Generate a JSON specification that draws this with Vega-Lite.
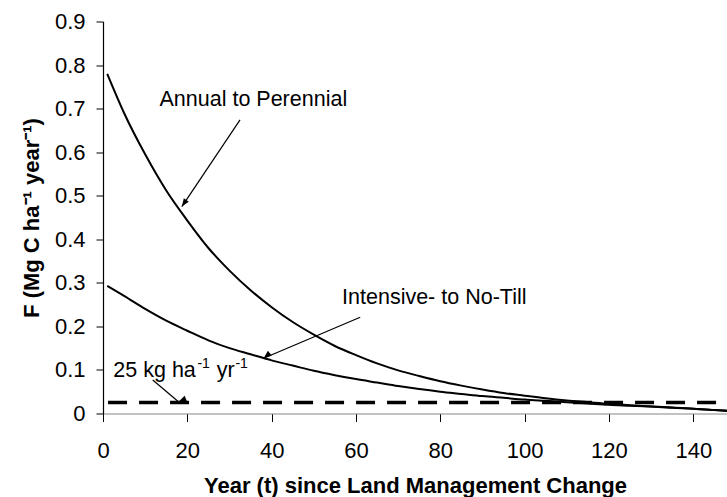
{
  "$schema": "https://vega.github.io/schema/vega-lite/v6.json",
  "width": 624,
  "height": 392,
  "autosize": {"type": "none"},
  "padding": {"left": 103, "top": 21.5, "right": 0, "bottom": 83.5},
  "background": "white",
  "config": {
    "view": {"stroke": null},
    "font": "Liberation Sans",
    "axis": {
      "grid": false,
      "labelFont": "Liberation Sans",
      "titleFont": "Liberation Sans",
      "labelFontSize": 22,
      "titleFontSize": 22,
      "titleFontWeight": "bold",
      "labelColor": "#000",
      "titleColor": "#000",
      "tickColor": "#000",
      "domainColor": "#000",
      "tickWidth": 1,
      "domainWidth": 1.2
    }
  },
  "datasets": {
    "curves": [
      {"t": 1, "F": 0.78, "series": "Annual to Perennial"},
      {"t": 5, "F": 0.69, "series": "Annual to Perennial"},
      {"t": 10, "F": 0.595, "series": "Annual to Perennial"},
      {"t": 15, "F": 0.512, "series": "Annual to Perennial"},
      {"t": 20, "F": 0.443, "series": "Annual to Perennial"},
      {"t": 25, "F": 0.38, "series": "Annual to Perennial"},
      {"t": 30, "F": 0.328, "series": "Annual to Perennial"},
      {"t": 35, "F": 0.283, "series": "Annual to Perennial"},
      {"t": 40, "F": 0.244, "series": "Annual to Perennial"},
      {"t": 45, "F": 0.21, "series": "Annual to Perennial"},
      {"t": 50, "F": 0.181, "series": "Annual to Perennial"},
      {"t": 55, "F": 0.155, "series": "Annual to Perennial"},
      {"t": 60, "F": 0.134, "series": "Annual to Perennial"},
      {"t": 65, "F": 0.115, "series": "Annual to Perennial"},
      {"t": 70, "F": 0.099, "series": "Annual to Perennial"},
      {"t": 75, "F": 0.086, "series": "Annual to Perennial"},
      {"t": 80, "F": 0.074, "series": "Annual to Perennial"},
      {"t": 85, "F": 0.064, "series": "Annual to Perennial"},
      {"t": 90, "F": 0.055, "series": "Annual to Perennial"},
      {"t": 95, "F": 0.047, "series": "Annual to Perennial"},
      {"t": 100, "F": 0.041, "series": "Annual to Perennial"},
      {"t": 105, "F": 0.035, "series": "Annual to Perennial"},
      {"t": 110, "F": 0.03, "series": "Annual to Perennial"},
      {"t": 115, "F": 0.026, "series": "Annual to Perennial"},
      {"t": 120, "F": 0.022, "series": "Annual to Perennial"},
      {"t": 125, "F": 0.019, "series": "Annual to Perennial"},
      {"t": 130, "F": 0.016, "series": "Annual to Perennial"},
      {"t": 135, "F": 0.013, "series": "Annual to Perennial"},
      {"t": 140, "F": 0.011, "series": "Annual to Perennial"},
      {"t": 145, "F": 0.008, "series": "Annual to Perennial"},
      {"t": 148, "F": 0.006, "series": "Annual to Perennial"},
      {"t": 1, "F": 0.293, "series": "Intensive- to No-Till"},
      {"t": 5, "F": 0.27, "series": "Intensive- to No-Till"},
      {"t": 10, "F": 0.24, "series": "Intensive- to No-Till"},
      {"t": 15, "F": 0.213, "series": "Intensive- to No-Till"},
      {"t": 20, "F": 0.19, "series": "Intensive- to No-Till"},
      {"t": 25, "F": 0.168, "series": "Intensive- to No-Till"},
      {"t": 30, "F": 0.15, "series": "Intensive- to No-Till"},
      {"t": 35, "F": 0.136, "series": "Intensive- to No-Till"},
      {"t": 40, "F": 0.122, "series": "Intensive- to No-Till"},
      {"t": 45, "F": 0.11, "series": "Intensive- to No-Till"},
      {"t": 50, "F": 0.098, "series": "Intensive- to No-Till"},
      {"t": 55, "F": 0.088, "series": "Intensive- to No-Till"},
      {"t": 60, "F": 0.079, "series": "Intensive- to No-Till"},
      {"t": 65, "F": 0.071, "series": "Intensive- to No-Till"},
      {"t": 70, "F": 0.063, "series": "Intensive- to No-Till"},
      {"t": 75, "F": 0.056, "series": "Intensive- to No-Till"},
      {"t": 80, "F": 0.05, "series": "Intensive- to No-Till"},
      {"t": 85, "F": 0.045, "series": "Intensive- to No-Till"},
      {"t": 90, "F": 0.04, "series": "Intensive- to No-Till"},
      {"t": 95, "F": 0.036, "series": "Intensive- to No-Till"},
      {"t": 100, "F": 0.032, "series": "Intensive- to No-Till"},
      {"t": 105, "F": 0.029, "series": "Intensive- to No-Till"},
      {"t": 110, "F": 0.026, "series": "Intensive- to No-Till"},
      {"t": 115, "F": 0.023, "series": "Intensive- to No-Till"},
      {"t": 120, "F": 0.02, "series": "Intensive- to No-Till"},
      {"t": 125, "F": 0.018, "series": "Intensive- to No-Till"},
      {"t": 130, "F": 0.016, "series": "Intensive- to No-Till"},
      {"t": 135, "F": 0.014, "series": "Intensive- to No-Till"},
      {"t": 140, "F": 0.011, "series": "Intensive- to No-Till"},
      {"t": 145, "F": 0.008, "series": "Intensive- to No-Till"},
      {"t": 148, "F": 0.007, "series": "Intensive- to No-Till"}
    ],
    "threshold": [{"t0": 1.2, "t1": 148, "F": 0.025}],
    "labels": [
      {"t": 13.4, "F": 0.706, "text": "Annual to Perennial"},
      {"t": 56.7, "F": 0.2515, "text": "Intensive- to No-Till"}
    ],
    "note": [
      {"t": 2.45, "F": 0.0845, "text": "25 kg ha", "part": "base"},
      {"t": 22.4, "F": 0.0845, "text": "-1", "part": "sup"},
      {"t": 27.0, "F": 0.0845, "text": "yr", "part": "base"},
      {"t": 31.4, "F": 0.0845, "text": "-1", "part": "sup"}
    ],
    "arrows": [
      {"id": "annual", "t0": 32.5, "F0": 0.674, "t1": 18.7, "F1": 0.475},
      {"id": "intensive", "t0": 61.0, "F0": 0.221, "t1": 38.1, "F1": 0.127},
      {"id": "threshold", "t0": 11.8, "F0": 0.077, "t1": 17.9, "F1": 0.027}
    ]
  },
  "layer": [
    {
      "data": {"name": "curves"},
      "mark": {"type": "line", "color": "#000", "strokeWidth": 2, "interpolate": "monotone"},
      "encoding": {
        "x": {
          "field": "t",
          "type": "quantitative",
          "scale": {"domain": [0, 148], "nice": false},
          "axis": {
            "values": [0, 20, 40, 60, 80, 100, 120, 140],
            "title": "Year (t) since Land Management Change",
            "tickSize": 8,
            "labelPadding": 18.5,
            "labelFlush": false,
            "titlePadding": 14.5,
            "domainColor": "#868686"
          }
        },
        "y": {
          "field": "F",
          "type": "quantitative",
          "scale": {"domain": [0, 0.9], "nice": false},
          "axis": {
            "values": [0, 0.1, 0.2, 0.3, 0.4, 0.5, 0.6, 0.7, 0.8, 0.9],
            "format": ".1~f",
            "title": "F (Mg C ha⁻¹  year⁻¹)",
            "tickSize": 7,
            "labelPadding": 11,
            "titlePadding": 11
          }
        },
        "detail": {"field": "series"}
      }
    },
    {
      "data": {"name": "threshold"},
      "mark": {"type": "rule", "color": "#000", "strokeWidth": 3.5, "strokeDash": [19, 12]},
      "encoding": {
        "x": {"field": "t0", "type": "quantitative"},
        "x2": {"field": "t1"},
        "y": {"field": "F", "type": "quantitative"}
      }
    },
    {
      "data": {"name": "arrows"},
      "mark": {"type": "rule", "color": "#000", "strokeWidth": 1.2},
      "encoding": {
        "x": {"field": "t0", "type": "quantitative"},
        "x2": {"field": "t1"},
        "y": {"field": "F0", "type": "quantitative"},
        "y2": {"field": "F1"}
      }
    },
    {
      "data": {"name": "arrows"},
      "mark": {"type": "point", "shape": "M0,0 L0.6,1.6 L-0.6,1.6 Z", "filled": true, "color": "#000", "opacity": 1, "size": 100},
      "encoding": {
        "x": {"field": "t1", "type": "quantitative"},
        "y": {"field": "F1", "type": "quantitative"},
        "angle": {
          "field": "id",
          "type": "nominal",
          "scale": {"domain": ["annual", "intensive", "threshold"], "range": [214, 247, 130]},
          "legend": null
        }
      }
    },
    {
      "data": {"name": "labels"},
      "mark": {"type": "text", "align": "left", "baseline": "alphabetic", "fontSize": 21.5, "color": "#000"},
      "encoding": {
        "x": {"field": "t", "type": "quantitative"},
        "y": {"field": "F", "type": "quantitative"},
        "text": {"field": "text"}
      }
    },
    {
      "data": {"name": "note"},
      "transform": [{"filter": "datum.part === 'base'"}],
      "mark": {"type": "text", "align": "left", "baseline": "alphabetic", "fontSize": 21.5, "color": "#000"},
      "encoding": {
        "x": {"field": "t", "type": "quantitative"},
        "y": {"field": "F", "type": "quantitative"},
        "text": {"field": "text"}
      }
    },
    {
      "data": {"name": "note"},
      "transform": [{"filter": "datum.part === 'sup'"}],
      "mark": {"type": "text", "align": "left", "baseline": "alphabetic", "fontSize": 14, "dy": -9, "color": "#000"},
      "encoding": {
        "x": {"field": "t", "type": "quantitative"},
        "y": {"field": "F", "type": "quantitative"},
        "text": {"field": "text"}
      }
    }
  ]
}
